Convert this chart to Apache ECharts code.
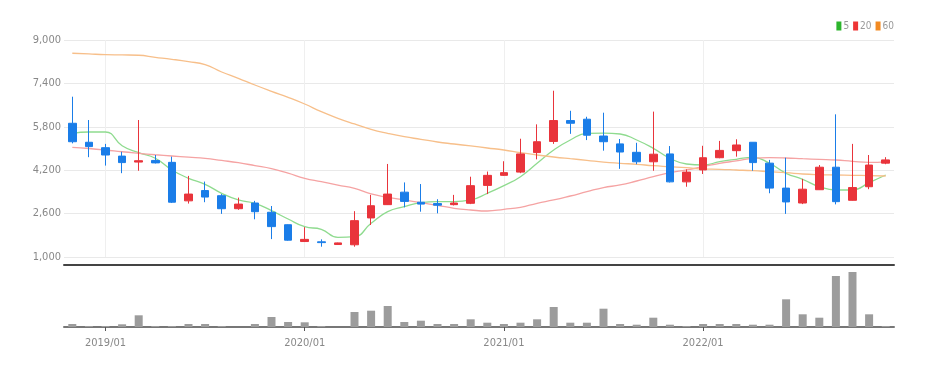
<!DOCTYPE html>
<html>
<head>
<meta charset="utf-8">
<script src="https://cdn.jsdelivr.net/npm/echarts@6/dist/echarts.min.js"></script>
<style>
  html, body { margin: 0; padding: 0; background: #fff; }
  #chart { width: 936px; height: 368px; }
</style>
</head>
<body>
<div id="chart"></div>
<script>
const months = [
  '2018/11', '2018/12',
  '2019/01', '2019/02', '2019/03', '2019/04', '2019/05', '2019/06', '2019/07', '2019/08', '2019/09', '2019/10', '2019/11', '2019/12',
  '2020/01', '2020/02', '2020/03', '2020/04', '2020/05', '2020/06', '2020/07', '2020/08', '2020/09', '2020/10', '2020/11', '2020/12',
  '2021/01', '2021/02', '2021/03', '2021/04', '2021/05', '2021/06', '2021/07', '2021/08', '2021/09', '2021/10', '2021/11', '2021/12',
  '2022/01', '2022/02', '2022/03', '2022/04', '2022/05', '2022/06', '2022/07', '2022/08', '2022/09', '2022/10', '2022/11', '2022/12'
];

const opens = [5930, 5230, 5030, 4720, 4500, 4560, 4490, 3070, 3450, 3260, 2780, 2990, 2650, 2190, 1570, 1560, 1460, 1450, 2440, 2930,
  3390, 3020, 2970, 2930, 2980, 3640, 4010, 4130, 4850, 5260, 6030, 6080, 5460, 5170, 4860, 4510, 4800, 3770, 4210, 4660,
  4920, 5230, 4460, 3540, 2990, 3480, 4310, 3090, 3590, 4460];
const closes = [5250, 5070, 4760, 4480, 4550, 4470, 3020, 3320, 3210, 2780, 2950, 2670, 2120, 1620, 1650, 1530, 1520, 2340, 2890, 3320,
  3050, 2950, 2910, 2990, 3630, 4010, 4110, 4800, 5250, 6030, 5930, 5490, 5250, 4870, 4510, 4790, 3770, 4130, 4660, 4930,
  5130, 4480, 3540, 3030, 3500, 4310, 3040, 3560, 4390, 4580];
const lows = [5190, 4680, 4370, 4090, 4180, 4450, 2990, 2970, 3020, 2590, 2740, 2390, 1660, 1600, 1560, 1380, 1450, 1380, 2180, 2920,
  2830, 2670, 2610, 2900, 2950, 3320, 3990, 4090, 4600, 5170, 5540, 5310, 4920, 4250, 4420, 4180, 3750, 3590, 4060, 4640,
  4700, 4180, 3350, 2590, 2950, 3470, 2940, 3080, 3500, 4420];
const highs = [6910, 6050, 5170, 4880, 6050, 4760, 4700, 3990, 3780, 3320, 3190, 3070, 2880, 2200, 2100, 1650, 1530, 2690, 3290, 4430,
  3750, 3690, 3130, 3290, 3960, 4150, 4530, 5360, 5890, 7130, 6390, 6170, 6320, 5350, 5210, 6360, 5090, 4230, 5100, 5280,
  5340, 5230, 4580, 4660, 3880, 4390, 6260, 5170, 4760, 4680];

const ma5 = [5560, 5609, 5609, 5104, 4846, 4639, 4208, 3902, 3680, 3348, 3102, 2980, 2707, 2401, 2117, 2021, 1726, 1749, 2243, 2671,
  2855, 3003, 3040, 3040, 3102, 3348, 3629, 3961, 4455, 4945, 5314, 5560, 5570, 5535, 5314, 5006, 4639, 4429, 4392, 4514,
  4602, 4676, 4455, 4086, 3864, 3592, 3470, 3470, 3741, 4023];
const ma20 = [5043, 5000, 4945, 4880, 4823, 4770, 4724, 4680, 4639, 4560, 4477, 4370, 4257, 4090, 3902, 3777, 3650, 3533, 3323, 3200,
  3102, 3003, 2906, 2796, 2733, 2696, 2759, 2832, 2980, 3102, 3249, 3409, 3560, 3655, 3802, 3961, 4108, 4208, 4330, 4455,
  4540, 4639, 4661, 4650, 4624, 4600, 4576, 4528, 4491, 4510];
const ma60 = [8511, 8485, 8460, 8450, 8437, 8363, 8289, 8201, 8091, 7821, 7589, 7341, 7109, 6888, 6641, 6358, 6114, 5904, 5708, 5560,
  5436, 5339, 5240, 5166, 5093, 5019, 4945, 4846, 4761, 4687, 4624, 4565, 4500, 4455, 4418, 4366, 4330, 4293, 4245, 4233,
  4208, 4182, 4145, 4108, 4060, 4035, 4023, 4012, 4000, 3987];

const volumes = [30000, 10000, 10000, 27000, 117000, 10000, 10000, 30000, 30000, 10000, 0, 30000, 100000, 50000, 47000, 10000, 0, 150000, 163000, 210000,
  50000, 63000, 30000, 30000, 77000, 43000, 30000, 43000, 77000, 200000, 43000, 43000, 183000, 30000, 23000, 93000, 23000, 10000, 30000, 30000,
  30000, 23000, 23000, 277000, 127000, 93000, 510000, 550000, 127000, 10000];

const maNames = ['5', '20', '60'];
const maColors = ['#2db52d', '#ee3535', '#f28a22'];
const maLineColors = ['#8fdb8f', '#f5a3a3', '#f7bf8a'];

const FONT = "'Liberation Sans Narrow', 'DejaVu Sans Condensed', sans-serif";
const isJan = (idx, val) => String(val).endsWith('/01');

const chart = echarts.init(document.getElementById('chart'), null, { renderer: 'canvas' });

const candleData = opens.map((o, i) => [o, closes[i], lows[i], highs[i]]);
const maData = [ma5, ma20, ma60];

chart.setOption({
  animation: false,
  backgroundColor: '#fff',
  legend: {
    right: 42,
    top: 21,
    padding: 0,
    itemWidth: 5,
    itemHeight: 9,
    itemGap: 4,
    icon: 'rect',
    textStyle: { color: '#999', fontSize: 10, fontFamily: FONT, padding: [0, 0, 0, -3] },
    data: maNames.map((n, i) => ({ name: n, itemStyle: { color: maColors[i] } }))
  },
  grid: [
    { left: 64, right: 42, top: 40, height: 217 },
    { left: 64, right: 42, top: 267, height: 60 }
  ],
  xAxis: [
    {
      type: 'category',
      gridIndex: 0,
      data: months,
      boundaryGap: true,
      offset: 8,
      axisLine: { show: true, lineStyle: { color: '#444', width: 2 } },
      axisTick: { show: false },
      axisLabel: { show: false },
      splitLine: { show: true, interval: isJan, alignWithLabel: true, lineStyle: { color: '#efefef' } }
    },
    {
      type: 'category',
      gridIndex: 1,
      data: months,
      boundaryGap: true,
      axisLine: { show: true, lineStyle: { color: '#777', width: 2 } },
      axisTick: { show: true, interval: isJan, alignWithLabel: true, length: 4, lineStyle: { color: '#555' } },
      axisLabel: { interval: isJan, color: '#888', fontSize: 11, fontFamily: FONT, margin: 11 },
      splitLine: { show: false }
    }
  ],
  yAxis: [
    {
      type: 'value',
      gridIndex: 0,
      min: 1000,
      max: 9000,
      interval: 1600,
      axisLine: { show: false },
      axisTick: { show: false },
      axisLabel: {
        color: '#888', fontSize: 11, fontFamily: FONT, margin: 3,
        formatter: (v) => v.toLocaleString('en-US')
      },
      splitLine: { lineStyle: { color: '#e9e9e9' } }
    },
    {
      type: 'value',
      gridIndex: 1,
      min: 0,
      max: 600000,
      show: false,
      splitLine: { show: false }
    }
  ],
  series: [
    {
      type: 'candlestick',
      name: 'price',
      xAxisIndex: 0,
      yAxisIndex: 0,
      barWidth: 8,
      data: candleData,
      itemStyle: {
        color: '#e9343b',
        color0: '#1a7de8',
        borderColor: '#e9343b',
        borderColor0: '#1a7de8',
        borderWidth: 1
      }
    },
    ...maNames.map((n, i) => ({
      type: 'line',
      name: n,
      xAxisIndex: 0,
      yAxisIndex: 0,
      data: maData[i],
      smooth: true,
      showSymbol: false,
      itemStyle: { color: maColors[i] },
      lineStyle: { color: maLineColors[i], width: 1.3 },
      z: 1
    })),
    {
      type: 'bar',
      name: 'volume',
      xAxisIndex: 1,
      yAxisIndex: 1,
      barWidth: 8,
      data: volumes,
      itemStyle: { color: '#9c9c9c' }
    }
  ]
});
</script>
</body>
</html>
